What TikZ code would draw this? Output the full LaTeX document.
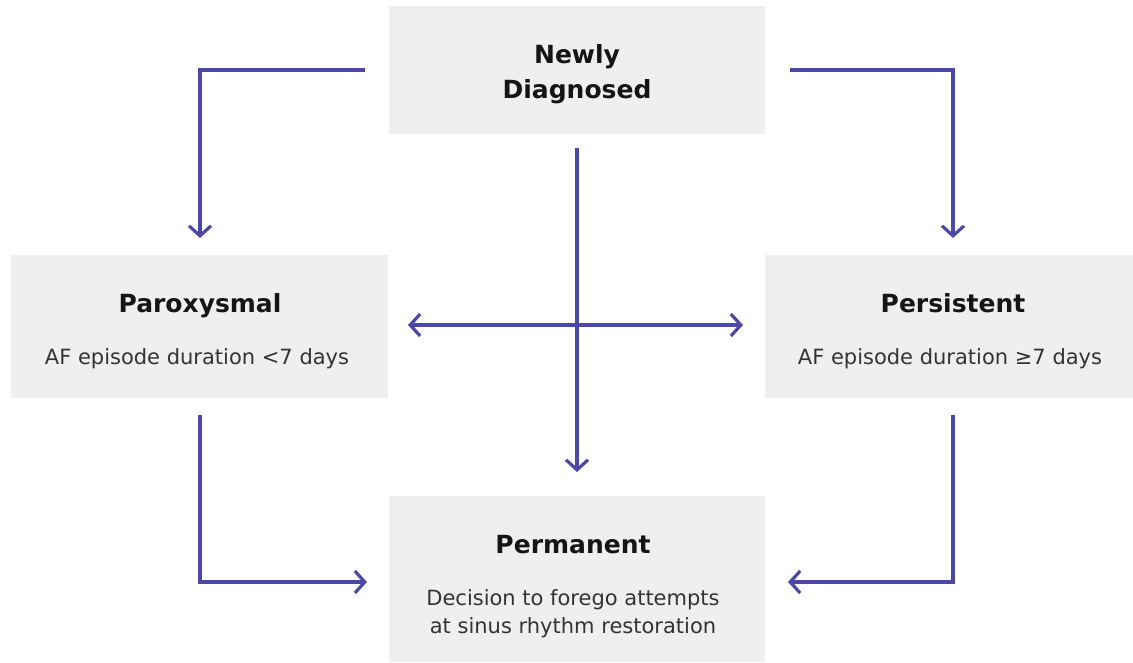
\documentclass[tikz,border=0pt]{standalone}
\usepackage{fontspec}
\setmainfont{DejaVu Sans}
\usetikzlibrary{arrows.meta}
\definecolor{boxgray}{HTML}{EFEFEF}
\definecolor{arrowblue}{HTML}{4B48A8}
\definecolor{titlecol}{HTML}{151515}
\definecolor{subcol}{HTML}{333333}
\begin{document}
\begin{tikzpicture}[x=1pt,y=-1pt,
  box/.style={fill=boxgray,draw=none,inner sep=0pt,anchor=north west},
  ttl/.style={anchor=base,inner sep=0pt,text=titlecol,font=\fontsize{25}{34}\selectfont\bfseries,align=center},
  sub/.style={anchor=base,inner sep=0pt,text=subcol,font=\fontsize{21}{28}\selectfont,align=center},
  conn/.style={draw=arrowblue,line width=3.2pt,-{Straight Barb[length=10pt,width=22pt,line width=3.2pt]}},
  conn2/.style={draw=arrowblue,line width=3.2pt,{Straight Barb[length=10pt,width=22pt,line width=3.2pt]}-{Straight Barb[length=10pt,width=22pt,line width=3.2pt]}}
]
\useasboundingbox (0,0) rectangle (1133,662);
% boxes
\node[box,minimum width=376pt,minimum height=128pt] (nd) at (389,6) {};
\node[box,minimum width=377pt,minimum height=143pt] (px) at (11,255) {};
\node[box,minimum width=368pt,minimum height=143pt] (ps) at (765,255) {};
\node[box,minimum width=376pt,minimum height=166pt] (pm) at (389,496) {};
% texts
\node[ttl] (ndt1) at (577,63) {Newly};
\node[ttl] (ndt2) at (577,98) {Diagnosed};
\node[ttl] (pxt) at (200,312) {Paroxysmal};
\node[sub] (pxs) at (197,364) {AF episode duration <7 days};
\node[ttl] (pst) at (953,312) {Persistent};
\node[sub] (pss) at (950,364) {AF episode duration ≥7 days};
\node[ttl] (pmt) at (573,553) {Permanent};
\node[sub] (pms1) at (573,605) {Decision to forego attempts};
\node[sub] (pms2) at (573,633) {at sinus rhythm restoration};
% connector coordinates
\coordinate (a1) at (365,70);
\coordinate (a2) at (200,238);
\coordinate (b1) at (790,70);
\coordinate (b2) at (953,238);
\coordinate (c1) at (577,148);
\coordinate (c2) at (577,472);
\coordinate (h1) at (408,325);
\coordinate (h2) at (743,325);
\coordinate (d1) at (200,415);
\coordinate (d2) at (367,582);
\coordinate (e1) at (953,415);
\coordinate (e2) at (788,582);
\draw[conn] (a1) -| (a2);
\draw[conn] (b1) -| (b2);
\draw[conn] (c1) -- (c2);
\draw[conn2] (h1) -- (h2);
\draw[conn] (d1) |- (d2);
\draw[conn] (e1) |- (e2);
\end{tikzpicture}
\end{document}
